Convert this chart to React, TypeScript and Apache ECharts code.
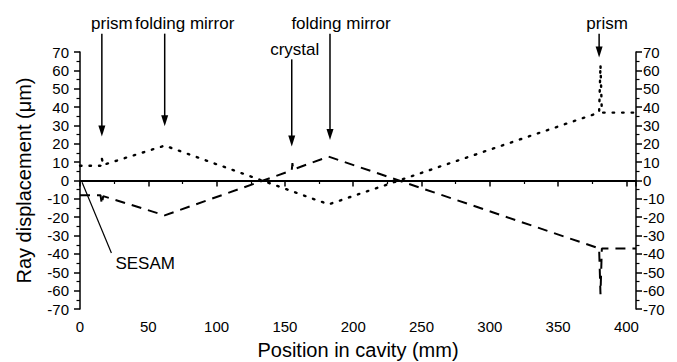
import React, { useEffect, useRef } from "react";
import * as echarts from "echarts";

// Ray displacement data (position in mm, displacement in µm)
const dottedRay: [number, number][] = [
  [0, 8], [15, 8], [16, 12], [17, 8.5], [62, 19], [182, -13],
  [380, 37], [381, 63], [382, 37], [407, 37],
];
const dashedRay: [number, number][] = [
  [0, -8], [15, -8], [16, -13], [17, -8.5], [62, -19], [155, 5.5],
  [155.5, 9.5], [156, 6], [182, 13], [380, -37], [381, -62], [382, -37], [407, -37],
];

const xTicks = [0, 50, 100, 150, 200, 250, 300, 350, 400];
const yTicks = [-70, -60, -50, -40, -30, -20, -10, 0, 10, 20, 30, 40, 50, 60, 70];

// Annotations: label, x position (mm), arrow start and tip (µm)
const annotationLabels = ["prism", "folding mirror", "crystal", "folding mirror", "prism"];
const annotationX = [16, 62, 155, 183, 380];
const arrowTop = [80, 80, 66, 80, 80];
const arrowTip = [24, 29.5, 18.5, 22, 67];
const labelShift = [10, 20, 3, 11, 8];

const sesamLabel = "SESAM";
const sesamFrom: [number, number] = [1.5, -1];
const sesamTo: [number, number] = [23, -39.5];

const FONT = "Liberation Sans, Arial, sans-serif";

export default function App() {
  const ref = useRef<HTMLDivElement>(null);
  useEffect(() => {
    document.body.style.margin = "0";
    if (!ref.current) return;
    const chart = echarts.init(ref.current, undefined, { renderer: "svg" });
    const axisCommon = {
      axisLine: { show: true, lineStyle: { color: "#000", width: 1.5 } },
      axisTick: { show: true, length: 6, inside: false, lineStyle: { color: "#000", width: 1.5 } },
      minorTick: { show: true, splitNumber: 2, length: 3.5, lineStyle: { color: "#000", width: 1.2 } },
      splitLine: { show: false },
      axisLabel: { color: "#000", fontSize: 15, fontFamily: FONT, margin: 8 },
    };
    const yAxisBase = {
      type: "value" as const,
      min: -70,
      max: 70,
      interval: 10,
      ...axisCommon,
    };
    chart.setOption({
      animation: false,
      backgroundColor: "#fff",
      grid: { left: 80, right: 41, top: 52, bottom: 53, containLabel: false, outerBoundsMode: "none" },
      xAxis: {
        type: "value",
        min: 0,
        max: 407,
        interval: 50,
        ...axisCommon,
        axisLabel: {
          ...axisCommon.axisLabel,
          margin: 10,
          showMaxLabel: false,
          formatter: (v: number) => (xTicks.includes(v) ? String(v) : ""),
        },
        name: "Position in cavity (mm)",
        nameLocation: "middle",
        nameGap: 31,
        nameTextStyle: { color: "#000", fontSize: 20, fontFamily: FONT },
      },
      yAxis: [
        {
          ...yAxisBase,
          position: "left",
          axisLabel: {
            ...axisCommon.axisLabel,
            margin: 11,
            formatter: (v: number) => (yTicks.includes(v) ? String(v) : ""),
          },
          name: "Ray displacement (\u03bcm)",
          nameLocation: "middle",
          nameGap: 46,
          nameRotate: 90,
          nameTextStyle: { color: "#000", fontSize: 20, fontFamily: FONT },
        },
        {
          ...yAxisBase,
          position: "right",
          axisLabel: {
            ...axisCommon.axisLabel,
            margin: 7,
            formatter: (v: number) => (yTicks.includes(v) ? String(v) : ""),
          },
        },
      ],
      series: [
        {
          type: "line",
          data: dottedRay,
          showSymbol: false,
          symbol: "none",
          lineStyle: { color: "#000", width: 2.4, type: [1.5, 8], cap: "round" },
          markLine: {
            silent: true,
            symbol: "none",
            label: { show: false },
            lineStyle: { color: "#000", width: 2, type: "solid" },
            data: [{ yAxis: 0 }],
          },
        },
        {
          type: "line",
          data: dashedRay,
          showSymbol: false,
          symbol: "none",
          lineStyle: { color: "#000", width: 2, type: [10, 7] },
        },
      ],
    });

    const px = (p: [number, number]) =>
      chart.convertToPixel({ gridIndex: 0 }, p) as number[];

    const graphics: any[] = [];
    annotationLabels.forEach((label, i) => {
      const top = px([annotationX[i], arrowTop[i]]);
      const tip = px([annotationX[i], arrowTip[i]]);
      graphics.push({
        type: "line",
        shape: { x1: top[0], y1: top[1], x2: tip[0], y2: tip[1] - 6 },
        style: { stroke: "#000", lineWidth: 1.5 },
      });
      graphics.push({
        type: "polygon",
        shape: {
          points: [
            [tip[0], tip[1]],
            [tip[0] - 3.5, tip[1] - 11],
            [tip[0] + 3.5, tip[1] - 11],
          ],
        },
        style: { fill: "#000" },
      });
      graphics.push({
        type: "text",
        x: top[0] + labelShift[i],
        y: top[1] - 10,
        style: {
          text: label,
          fill: "#000",
          font: `17px ${FONT}`,
          textAlign: "center",
          textVerticalAlign: "middle",
        },
      });
    });
    const s1 = px(sesamFrom);
    const s2 = px(sesamTo);
    graphics.push({
      type: "line",
      shape: { x1: s1[0], y1: s1[1], x2: s2[0], y2: s2[1] },
      style: { stroke: "#000", lineWidth: 1.2 },
    });
    graphics.push({
      type: "text",
      x: s2[0] + 4,
      y: s2[1] + 10,
      style: {
        text: sesamLabel,
        fill: "#000",
        font: `17px ${FONT}`,
        textAlign: "left",
        textVerticalAlign: "middle",
      },
    });
    chart.setOption({ graphic: graphics });

    return () => chart.dispose();
  }, []);
  return <div ref={ref} style={{ width: 677, height: 362 }} />;
}
